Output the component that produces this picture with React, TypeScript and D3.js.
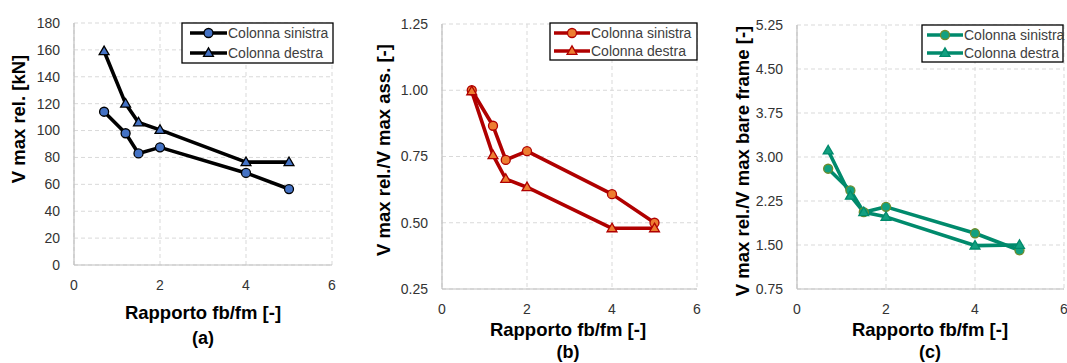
import React from "react";
import * as d3 from "d3";

const ratios = [0.7, 1.2, 1.5, 2, 4, 5];
const xTicks = [0, 2, 4, 6];

const vmaxSinistra = [114, 98, 83, 87.5, 68.5, 56.5];
const vmaxDestra = [159, 120, 106, 100.5, 76.5, 76.5];

const assSinistra = [1.0, 0.866, 0.737, 0.77, 0.608, 0.5];
const assDestra = [0.996, 0.755, 0.665, 0.634, 0.479, 0.479];

const bareSinistra = [2.8, 2.43, 2.06, 2.15, 1.7, 1.41];
const bareDestra = [3.11, 2.34, 2.06, 1.98, 1.49, 1.5];

const yTicksA = [0, 20, 40, 60, 80, 100, 120, 140, 160, 180];
const yTicksB = [0.25, 0.5, 0.75, 1.0, 1.25];
const yTicksC = [0.75, 1.5, 2.25, 3.0, 3.75, 4.5, 5.25];

const seriesNames = ["Colonna sinistra", "Colonna destra"];
const xTitle = "Rapporto fb/fm [-]";

const FONT = "'Liberation Sans', Arial, sans-serif";

type Panel = {
  left: number; right: number; top: number; bottom: number;
  yDomain: [number, number]; yTicks: number[]; yFmt: (v: number) => string;
  s1: number[]; s2: number[];
  lineColor: string; circFill: string; circStroke: string; triFill: string; triStroke: string;
  yTitle: string; yTitleX: number; yTitleY: number;
  xTitleX: number; xTitleY: number; xTickY: number;
  tag: string; tagY: number;
  leg: { x: number; y: number; w: number; h: number; r1: number; r2: number; s0: number; s1: number; tx: number };
};

const panels: Panel[] = [
  {
    left: 74, right: 332, top: 23, bottom: 265,
    yDomain: [0, 180], yTicks: yTicksA, yFmt: (v) => d3.format("d")(v),
    s1: vmaxSinistra, s2: vmaxDestra,
    lineColor: "#000000", circFill: "#4472C4", circStroke: "#000000", triFill: "#4472C4", triStroke: "#000000",
    yTitle: "V max rel. [kN]", yTitleX: 19, yTitleY: 119,
    xTitleX: 203, xTitleY: 319, xTickY: 290,
    tag: "(a)", tagY: 344,
    leg: { x: 182, y: 23, w: 151, h: 40, r1: 33, r2: 53, s0: 190, s1: 227, tx: 228 },
  },
  {
    left: 442, right: 697, top: 24, bottom: 289,
    yDomain: [0.25, 1.25], yTicks: yTicksB, yFmt: (v) => d3.format(".2f")(v),
    s1: assSinistra, s2: assDestra,
    lineColor: "#B00000", circFill: "#ED7D31", circStroke: "#B00000", triFill: "#ED7D31", triStroke: "#B00000",
    yTitle: "V max rel./V max ass. [-]", yTitleX: 384, yTitleY: 150,
    xTitleX: 568, xTitleY: 336, xTickY: 314,
    tag: "(b)", tagY: 358,
    leg: { x: 550, y: 23, w: 147, h: 37, r1: 33, r2: 51, s0: 554, s1: 590, tx: 591 },
  },
  {
    left: 797, right: 1064, top: 25, bottom: 289,
    yDomain: [0.75, 5.25], yTicks: yTicksC, yFmt: (v) => d3.format(".2f")(v),
    s1: bareSinistra, s2: bareDestra,
    lineColor: "#008A6C", circFill: "#12A080", circStroke: "#6E8B2A", triFill: "#12A080", triStroke: "#008A6C",
    yTitle: "V max rel./V max bare frame [-]", yTitleX: 743, yTitleY: 161,
    xTitleX: 930, xTitleY: 336, xTickY: 314,
    tag: "(c)", tagY: 358,
    leg: { x: 922, y: 25, w: 141, h: 37, r1: 35, r2: 53, s0: 927, s1: 963, tx: 964 },
  },
];

function tri(cx: number, cy: number, r: number) {
  const h = r * 1.9;
  return `M${cx},${cy - h * 0.6} L${cx + r * 1.1},${cy + h * 0.4} L${cx - r * 1.1},${cy + h * 0.4} Z`;
}

function PanelView({ p }: { p: Panel }) {
  const x = d3.scaleLinear().domain([0, 6]).range([p.left, p.right]);
  const y = d3.scaleLinear().domain(p.yDomain).range([p.bottom, p.top]);
  const line = d3.line<number>().x((_, i) => x(ratios[i])).y((d) => y(d));
  const lw = 3.6;
  const mr = 4.5;
  const legFont = 14;
  return (
    <g>
      {p.yTicks.map((t) => (
        <line key={"gy" + t} x1={p.left} x2={p.right} y1={y(t)} y2={y(t)} stroke="#D9D9D9" strokeWidth={1} strokeDasharray="4,3" />
      ))}
      {xTicks.map((t) => (
        <line key={"gx" + t} x1={x(t)} x2={x(t)} y1={p.top} y2={p.bottom} stroke="#D9D9D9" strokeWidth={1} strokeDasharray="4,3" />
      ))}
      <line x1={p.left} x2={p.left} y1={p.top} y2={p.bottom} stroke="#BFBFBF" strokeWidth={1.2} />
      <line x1={p.left} x2={p.right} y1={p.bottom} y2={p.bottom} stroke="#BFBFBF" strokeWidth={1.2} />
      {p.yTicks.map((t) => (
        <text key={"ty" + t} x={p.left - 14} y={y(t)} dy="0.35em" textAnchor="end" fontSize={14} fill="#333" fontFamily={FONT}>
          {p.yFmt(t)}
        </text>
      ))}
      {xTicks.map((t) => (
        <text key={"tx" + t} x={x(t)} y={p.xTickY} textAnchor="middle" fontSize={14} fill="#333" fontFamily={FONT}>
          {t}
        </text>
      ))}
      <path d={line(p.s1) || ""} fill="none" stroke={p.lineColor} strokeWidth={lw} strokeLinejoin="round" />
      <path d={line(p.s2) || ""} fill="none" stroke={p.lineColor} strokeWidth={lw} strokeLinejoin="round" />
      {p.s1.map((v, i) => (
        <circle key={"c" + i} cx={x(ratios[i])} cy={y(v)} r={mr} fill={p.circFill} stroke={p.circStroke} strokeWidth={1.3} />
      ))}
      {p.s2.map((v, i) => (
        <path key={"t" + i} d={tri(x(ratios[i]), y(v), mr)} fill={p.triFill} stroke={p.triStroke} strokeWidth={1.3} strokeLinejoin="miter" />
      ))}
      <text transform={`translate(${p.yTitleX},${p.yTitleY}) rotate(-90)`} textAnchor="middle" dy="0.35em" fontSize={18.5} fontWeight="bold" fill="#000" fontFamily={FONT}>
        {p.yTitle}
      </text>
      <text x={p.xTitleX} y={p.xTitleY} textAnchor="middle" fontSize={18.5} fontWeight="bold" fill="#000" fontFamily={FONT}>
        {xTitle}
      </text>
      <text x={p.xTitleX} y={p.tagY} textAnchor="middle" fontSize={18} fontWeight="bold" fill="#000" fontFamily={FONT}>
        {p.tag}
      </text>
      <rect x={p.leg.x} y={p.leg.y} width={p.leg.w} height={p.leg.h} fill="#fff" stroke="#000" strokeWidth={1.3} />
      {[p.leg.r1, p.leg.r2].map((ry, k) => {
        const mx = (p.leg.s0 + p.leg.s1) / 2;
        return (
          <g key={"l" + k}>
            <line x1={p.leg.s0} x2={p.leg.s1} y1={ry} y2={ry} stroke={p.lineColor} strokeWidth={lw} />
            {k === 0 ? (
              <circle cx={mx} cy={ry} r={mr} fill={p.circFill} stroke={p.circStroke} strokeWidth={1.3} />
            ) : (
              <path d={tri(mx, ry, mr)} fill={p.triFill} stroke={p.triStroke} strokeWidth={1.3} />
            )}
            <text x={p.leg.tx} y={ry} dy="0.35em" fontSize={legFont} fill="#404040" fontFamily={FONT}>
              {seriesNames[k]}
            </text>
          </g>
        );
      })}
    </g>
  );
}

export default function App() {
  return (
    <svg width={1067} height={363} style={{ position: "absolute", left: 0, top: 0, background: "#fff" }}>
      <rect x={0} y={0} width={1067} height={363} fill="#fff" />
      {panels.map((p, i) => (
        <PanelView key={i} p={p} />
      ))}
    </svg>
  );
}
